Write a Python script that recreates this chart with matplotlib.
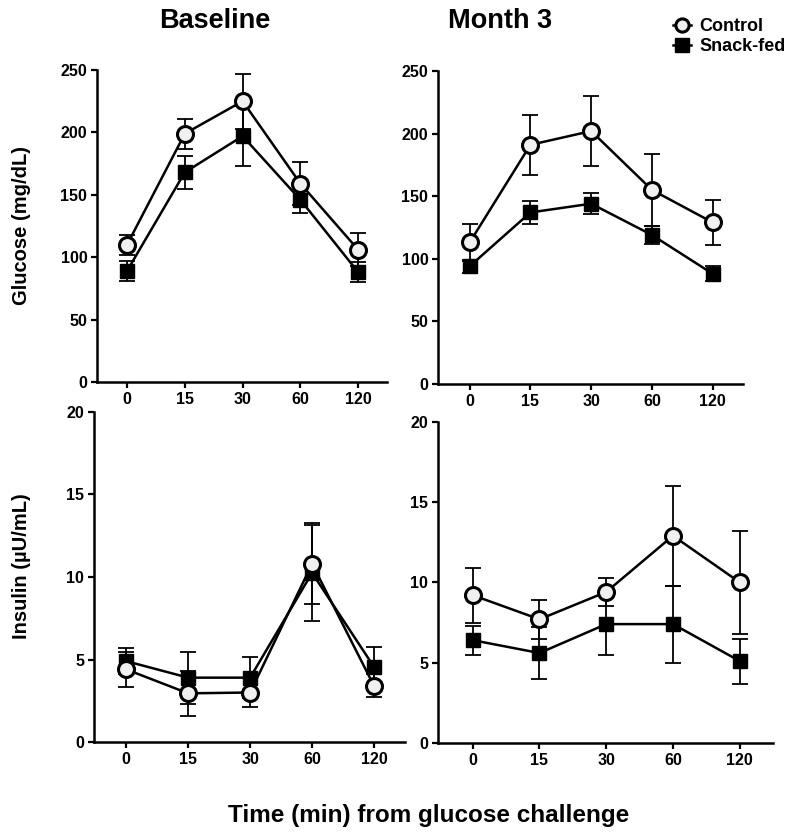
import matplotlib
matplotlib.use("Agg")
import matplotlib.pyplot as plt
import numpy as np

plt.rcParams['font.family'] = ['Liberation Sans', 'DejaVu Sans']
plt.rcParams['font.weight'] = 'bold'

times = ['0', '15', '30', '60', '120']

# glucose (mg/dL), mean and SEM
glu_base_ctrl = [110, 199, 225, 159, 106]
glu_base_ctrl_err = [8, 12, 22, 17, 13]
glu_base_snack = [89, 168, 197, 146, 88]
glu_base_snack_err = [8, 13, 24, 11, 8]
glu_m3_ctrl = [113, 191, 202, 155, 129]
glu_m3_ctrl_err = [15, 24, 28, 29, 18]
glu_m3_snack = [94, 137, 144, 119, 88]
glu_m3_snack_err = [5, 9.5, 8.5, 7, 6]

# insulin (uU/mL), mean and SEM
ins_base_ctrl = [4.4, 2.95, 3.0, 10.8, 3.4]
ins_base_ctrl_err = [1.05, 1.35, 0.88, 2.45, 0.7]
ins_base_snack = [4.9, 3.9, 3.9, 10.25, 4.55]
ins_base_snack_err = [0.8, 1.57, 1.26, 2.9, 1.2]
ins_m3_ctrl = [9.2, 7.7, 9.4, 12.9, 10.0]
ins_m3_ctrl_err = [1.7, 1.2, 0.9, 3.1, 3.2]
ins_m3_snack = [6.4, 5.6, 7.4, 7.4, 5.1]
ins_m3_snack_err = [0.9, 1.6, 1.9, 2.4, 1.4]

fig = plt.figure(figsize=(7.96, 8.34), dpi=100)

boxes = [
    [0.1219, 0.5420, 0.3643, 0.3741],
    [0.5503, 0.5396, 0.3832, 0.3753],
    [0.1181, 0.1103, 0.3907, 0.3957],
    [0.5503, 0.1091, 0.4209, 0.3853],
]
panels = [
    (glu_base_ctrl, glu_base_ctrl_err, glu_base_snack, glu_base_snack_err, 250, 50),
    (glu_m3_ctrl, glu_m3_ctrl_err, glu_m3_snack, glu_m3_snack_err, 250, 50),
    (ins_base_ctrl, ins_base_ctrl_err, ins_base_snack, ins_base_snack_err, 20, 5),
    (ins_m3_ctrl, ins_m3_ctrl_err, ins_m3_snack, ins_m3_snack_err, 20, 5),
]

x = np.arange(len(times))
axes = []
for box, (c, ce, s, se, ymax, step) in zip(boxes, panels):
    ax = fig.add_axes(box)
    ax.errorbar(x, s, yerr=se, fmt='none', ecolor='black', elinewidth=1.3,
                capsize=6, capthick=1.3, zorder=2)
    ax.plot(x, s, color='black', lw=1.8, marker='s', ms=10.5, mfc='black',
            mec='black', zorder=3, label='Snack-fed')
    ax.errorbar(x, c, yerr=ce, fmt='none', ecolor='black', elinewidth=1.3,
                capsize=6, capthick=1.3, zorder=4)
    ax.plot(x, c, color='black', lw=1.8, marker='o', ms=11.5, mfc='#f0f0f0',
            mec='black', mew=2.2, zorder=5, label='Control')
    ax.set_xlim(-0.52, 4.5)
    ax.set_ylim(0, ymax)
    ax.set_yticks(np.arange(0, ymax + 1, step))
    ax.set_xticks(x)
    ax.set_xticklabels(times)
    for sp in ['top', 'right']:
        ax.spines[sp].set_visible(False)
    for sp in ['left', 'bottom']:
        ax.spines[sp].set_linewidth(1.8)
    ax.tick_params(direction='out', length=4, width=1.6, labelsize=11.5, pad=3)
    for lab in ax.get_xticklabels() + ax.get_yticklabels():
        lab.set_fontweight('bold')
    axes.append(ax)

fig.text(0.270, 0.975, 'Baseline', ha='center', va='center', fontsize=19.5, fontweight='bold')
fig.text(0.628, 0.975, 'Month 3', ha='center', va='center', fontsize=19.5, fontweight='bold')
fig.text(0.027, 0.730, 'Glucose (mg/dL)', rotation=90, ha='center', va='center',
         fontsize=14.5, fontweight='bold')
fig.text(0.027, 0.321, 'Insulin (\u00b5U/mL)', rotation=90, ha='center', va='center',
         fontsize=14.5, fontweight='bold')
fig.text(0.538, 0.022, 'Time (min) from glucose challenge', ha='center', va='center',
         fontsize=17.5, fontweight='bold')

h, l = axes[1].get_legend_handles_labels()
leg = fig.legend(h[::-1], l[::-1], loc='upper left', bbox_to_anchor=(0.829, 0.993),
                 frameon=False, fontsize=13, handlelength=1.0, handletextpad=0.5,
                 labelspacing=0.15, borderpad=0.2)
for t in leg.get_texts():
    t.set_fontweight('bold')
for hd in leg.legend_handles:
    hd.set_markersize(9.5)

fig.savefig('out.png', dpi=100)
